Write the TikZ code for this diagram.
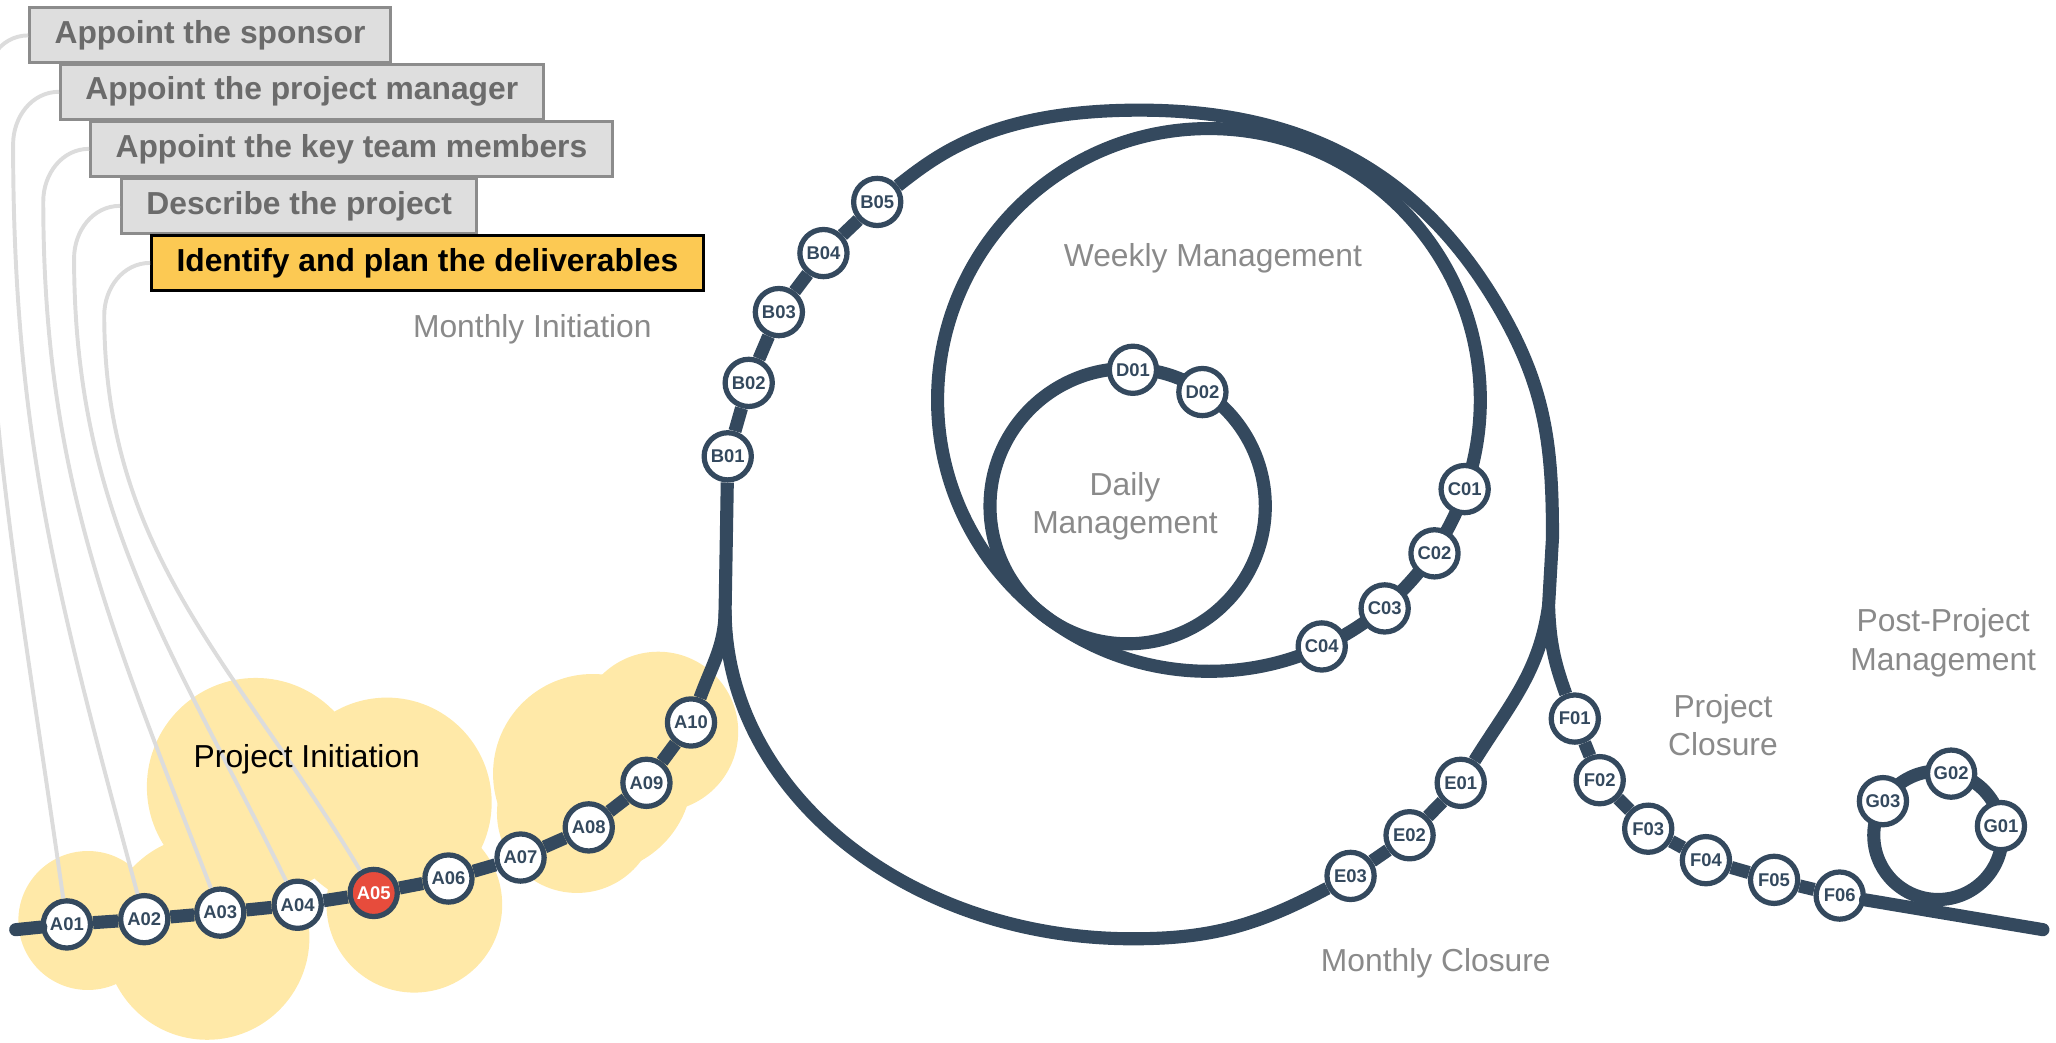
\documentclass[tikz,border=0pt]{standalone}
\usepackage{fontspec}
\setmainfont{Liberation Sans}
\definecolor{navy}{HTML}{34495E}
\definecolor{alarm}{HTML}{E74C3C}
\definecolor{cloud}{HTML}{FFE9A8}
\definecolor{wire}{HTML}{DCDCDC}
\definecolor{boxgrey}{HTML}{DEDEDE}
\definecolor{boxedge}{HTML}{8C8C8C}
\definecolor{boxtext}{HTML}{6B6B6B}
\definecolor{gold}{HTML}{FCC953}
\definecolor{labelgrey}{HTML}{8A8A8A}

\begin{document}
\begin{tikzpicture}[x=0.02cm,y=0.02cm,
  track/.style={draw=navy,line width=0.2cm},
  feeder/.style={draw=wire,line width=0.06cm},
  station/.style={circle,draw=navy,line width=0.08cm,fill=white,text=navy,minimum size=0.72cm,inner sep=0pt,font=\fontsize{8}{9}\selectfont\bfseries},
  station now/.style={station,fill=alarm,text=white},
  taskbox/.style={anchor=west,draw=boxedge,fill=boxgrey,text=boxtext,line width=1.3pt,inner xsep=0.38cm,minimum height=0.84cm,font=\fontsize{13.8}{16}\selectfont\bfseries},
  taskbox now/.style={taskbox,draw=black,fill=gold,text=black},
  phaselabel/.style={text=labelgrey,align=center,font=\fontsize{13.8}{16.8}\selectfont}]

\useasboundingbox (0,0) rectangle (1568,-795);
\clip (0,0) rectangle (1568,-795);

\fill[cloud] (67,-702) circle (1.06cm);
\fill[cloud] (158,-715) circle (1.56cm);
\fill[cloud] (195,-600) circle (1.66cm);
\fill[cloud] (295,-612) circle (1.6cm);
\fill[cloud] (316,-690) circle (1.34cm);
\fill[cloud] (452,-590) circle (1.52cm);
\fill[cloud] (440,-620) circle (1.22cm);
\fill[cloud] (502,-558) circle (1.22cm);

\coordinate (start) at (12,-709);
\coordinate (finish) at (1558,-709);
\coordinate (J1) at (553,-465);
\coordinate (T) at (869,-84);
\coordinate (M) at (1144,-236);
\coordinate (R) at (1184,-410);
\coordinate (J2) at (1181,-462);

\draw[track] (922,-305) circle (4.14cm);
\draw[track] (860,-386) circle (2.1cm);
\draw[track] (1478,-637) circle (0.98cm);

\node[taskbox] (s1) at (21.5,-27) {Appoint the sponsor};
\node[taskbox] (s2) at (45,-70) {Appoint the project manager};
\node[taskbox] (s3) at (68,-113.5) {Appoint the key team members};
\node[taskbox] (s4) at (91.5,-157) {Describe the project};
\node[taskbox now] (s5) at (114.5,-200.5) {Identify and plan the deliverables};

\node[station] (A01) at (51,-705) {A01};
\node[station] (A02) at (110,-701) {A02};
\node[station] (A03) at (168,-696) {A03};
\node[station] (A04) at (227,-690) {A04};
\node[station now] (A05) at (285,-681) {A05};
\node[station] (A06) at (342,-670) {A06};
\node[station] (A07) at (397,-654) {A07};
\node[station] (A08) at (449,-631) {A08};
\node[station] (A09) at (493,-597) {A09};
\node[station] (A10) at (527,-551) {A10};

\node[station] (B01) at (555,-348) {B01};
\node[station] (B02) at (571,-292) {B02};
\node[station] (B03) at (594,-238) {B03};
\node[station] (B04) at (628,-193) {B04};
\node[station] (B05) at (669,-154) {B05};

\node[station] (C01) at (1117,-373) {C01};
\node[station] (C02) at (1094,-422) {C02};
\node[station] (C03) at (1056,-464) {C03};
\node[station] (C04) at (1008,-493) {C04};

\node[station] (D01) at (864,-282) {D01};
\node[station] (D02) at (917,-299) {D02};

\node[station] (E01) at (1114,-597) {E01};
\node[station] (E02) at (1075,-637) {E02};
\node[station] (E03) at (1030,-668) {E03};

\node[station] (F01) at (1201,-548) {F01};
\node[station] (F02) at (1220,-595) {F02};
\node[station] (F03) at (1257,-632) {F03};
\node[station] (F04) at (1301,-656) {F04};
\node[station] (F05) at (1353,-671) {F05};
\node[station] (F06) at (1403,-683) {F06};

\node[station] (G01) at (1526,-630) {G01};
\node[station] (G02) at (1488,-590) {G02};
\node[station] (G03) at (1436,-611) {G03};

\draw[track,line cap=round] (start) -- (A01);
\draw[track] (A01) -- (A02) -- (A03) -- (A04) -- (A05) -- (A06) -- (A07) -- (A08) -- (A09) -- (A10);
\draw[track] (A10) to[out=70,in=-90] (J1) -- (B01) -- (B02) -- (B03) -- (B04) -- (B05)
  .. controls +(47,37) and +(-110,0) .. (T) to[out=0,in=120] (M) to[out=-60,in=90] (R) -- (J2) to[out=-88,in=110] (F01);
\draw[track] (F01) -- (F02) -- (F03) -- (F04) -- (F05) -- (F06);
\draw[track,line cap=round] (F06) -- (finish);
\draw[track] (J1) arc[start angle=180,end angle=270,x radius=6.22cm,y radius=5.02cm]
  to[out=0,in=-152] (E03) -- (E02) -- (E01) to[out=58,in=-98] (J2);

\draw[feeder] (s1.west) to[out=180,in=90] ++(-35,-45) to[out=-90,in=98] (A01);
\draw[feeder] (s2.west) to[out=180,in=90] ++(-35,-40) to[out=-90,in=105] (A02);
\draw[feeder] (s3.west) to[out=180,in=90] ++(-35,-40) to[out=-90,in=111] (A03);
\draw[feeder] (s4.west) to[out=180,in=90] ++(-35,-40) to[out=-90,in=116] (A04);
\draw[feeder] (s5.west) to[out=180,in=90] ++(-35,-40) to[out=-90,in=121] (A05);

\node[phaselabel,text=black] (lpi) at (234,-579) {Project Initiation};
\node[phaselabel] (lmi) at (406,-251) {Monthly Initiation};
\node[phaselabel] (lwm) at (925,-197) {Weekly Management};
\node[phaselabel] (ldm) at (858,-386) {Daily\\Management};
\node[phaselabel] (lpc) at (1314,-553) {Project\\Closure};
\node[phaselabel] (lpp) at (1482,-490) {Post-Project\\Management};
\node[phaselabel] (lmc) at (1095,-735) {Monthly Closure};

\end{tikzpicture}
\end{document}
